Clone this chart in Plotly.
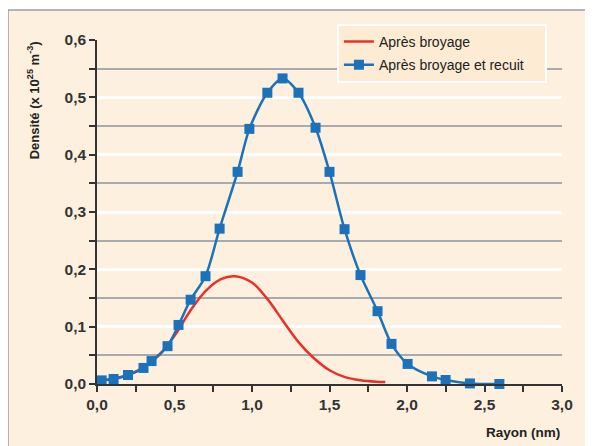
import plotly.graph_objects as go

# Data
recuit_x = [0.03, 0.107, 0.20, 0.30, 0.352, 0.455, 0.526, 0.604, 0.70, 0.791,
            0.907, 0.983, 1.099, 1.197, 1.30, 1.41, 1.50, 1.597, 1.70, 1.81,
            1.90, 2.004, 2.161, 2.249, 2.406, 2.596]
recuit_y = [0.0063, 0.0087, 0.0157, 0.028, 0.040, 0.066, 0.103, 0.147, 0.188, 0.271,
            0.370, 0.445, 0.508, 0.533, 0.508, 0.447, 0.370, 0.270, 0.190, 0.127,
            0.070, 0.035, 0.0133, 0.007, 0.001, 0.0]

broyage_x = [0.03, 0.10, 0.20, 0.30, 0.40, 0.50, 0.60, 0.70, 0.80, 0.89,
             1.00, 1.10, 1.20, 1.30, 1.40, 1.50, 1.60, 1.70, 1.80, 1.86]
broyage_y = [0.006, 0.009, 0.0157, 0.029, 0.050, 0.084, 0.127, 0.162, 0.183, 0.188,
             0.177, 0.148, 0.110, 0.073, 0.045, 0.024, 0.012, 0.0065, 0.004, 0.0035]

name_broyage = "Après broyage"
name_recuit = "Après broyage et recuit"
y_title = "Densité (x 10<sup>25</sup> m<sup>-3</sup>)"
x_title = "Rayon (nm)"

FONT = "Liberation Sans, Arial, sans-serif"
BEIGE = "#FDF0DF"
PLOTBG = "#DAE0E6"
BLUE = "#1B72BA"
RED = "#E8312A"
PAD = "\u00a0" * 4  # widens the legend box like the reference

fig = go.Figure()
fig.add_trace(go.Scatter(
    x=broyage_x, y=broyage_y, mode="lines", name=name_broyage,
    line=dict(color=RED, width=2.5, shape="spline", smoothing=1.0),
    legendgroup="a", cliponaxis=False))
fig.add_trace(go.Scatter(
    x=recuit_x, y=recuit_y, mode="lines+markers", name=name_recuit + PAD,
    line=dict(color=BLUE, width=2.5, shape="spline", smoothing=0.8),
    marker=dict(symbol="square", size=10, color=BLUE),
    legendgroup="b", cliponaxis=False))

# outer beige frame
fig.add_shape(type="rect", xref="paper", yref="paper",
              x0=-0.1914, x1=1.12, y0=-0.26, y1=1.0872,
              fillcolor=BEIGE, line=dict(color="#9A9FA3", width=1.5), layer="below")

fig.add_annotation(text="<b>" + y_title + "</b>", xref="paper", yref="paper",
                   x=-0.138, y=0.824, xanchor="center", yanchor="middle",
                   textangle=-90, showarrow=False,
                   font=dict(family=FONT, size=13, color="#222"))
fig.add_annotation(text="<b>" + x_title + "</b>", xref="paper", yref="paper",
                   x=0.916, y=-0.142, xanchor="center", yanchor="middle",
                   showarrow=False,
                   font=dict(family=FONT, size=13.5, color="#222"))

fig.update_layout(
    width=593, height=446,
    margin=dict(l=89, r=39, t=32, b=70),
    paper_bgcolor="white", plot_bgcolor=PLOTBG,
    separators=",.",
    font=dict(family=FONT, color="#222"),
    legend=dict(x=0.516, y=1.047, xanchor="left", yanchor="top",
                bgcolor="#FDEBD3", bordercolor="white", borderwidth=2,
                font=dict(family=FONT, size=14, color="#222"),
                tracegroupgap=2, traceorder="grouped"),
    xaxis=dict(range=[0, 3], tickmode="linear", tick0=0, dtick=0.5,
               tickformat=".1f", showgrid=False, zeroline=False,
               showline=True, linecolor="#333", linewidth=1.5,
               ticks="outside", ticklen=6, tickwidth=1.5, tickcolor="#333",
               tickfont=dict(family=FONT, size=15.5, color="#333", weight="bold"),
               minor=dict(dtick=0.25, ticks="outside", ticklen=6, tickwidth=1.5,
                          tickcolor="#333", showgrid=False)),
    yaxis=dict(range=[0, 0.6], tickmode="linear", tick0=0, dtick=0.1,
               tickformat=".1f", showgrid=True, gridcolor="white", gridwidth=2.5,
               zeroline=False, showline=True, linecolor="#333", linewidth=1.5,
               ticks="outside", ticklen=6, tickwidth=1.5, tickcolor="#333",
               tickfont=dict(family=FONT, size=15.5, color="#333", weight="bold"),
               minor=dict(dtick=0.05, ticks="outside", ticklen=6, tickwidth=1.5,
                          tickcolor="#333", showgrid=True, gridcolor="#A8AAAD",
                          gridwidth=1.5)),
)

fig.write_html("out.html")
